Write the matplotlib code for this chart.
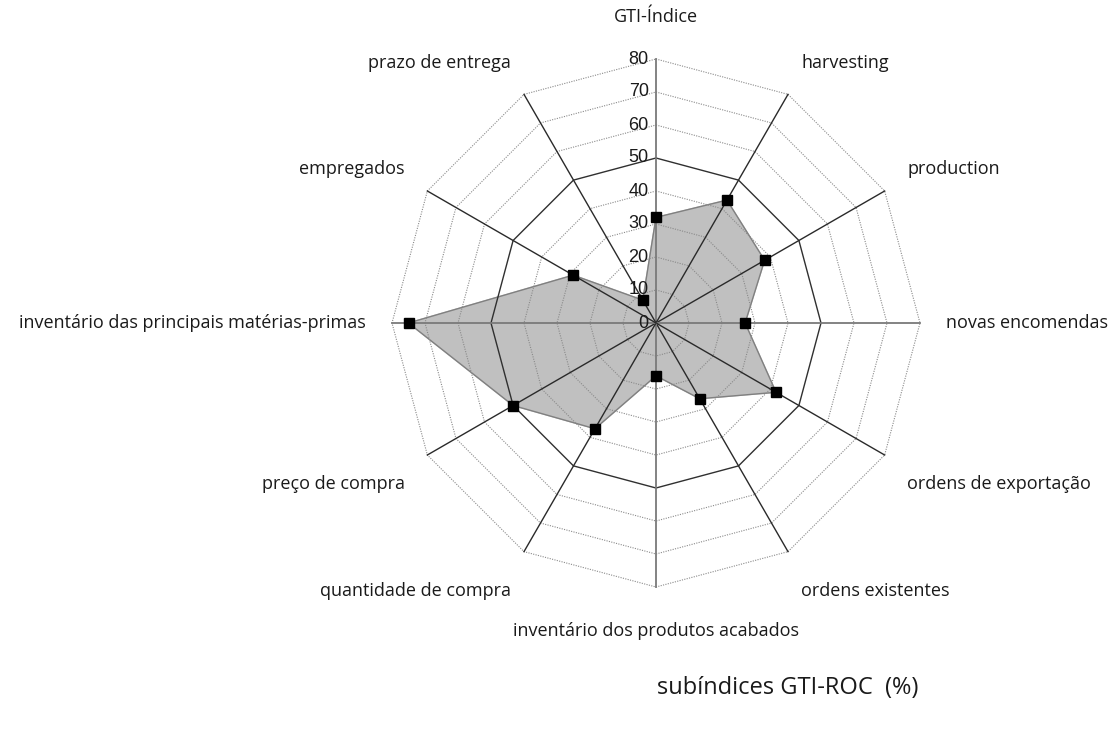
import numpy as np
import matplotlib
matplotlib.use("Agg")
import matplotlib.pyplot as plt

# dados
categorias = ["GTI-Índice", "harvesting", "production", "novas encomendas",
              "ordens de exportação", "ordens existentes",
              "inventário dos produtos acabados", "quantidade de compra",
              "preço de compra", "inventário das principais matérias-primas",
              "empregados", "prazo de entrega"]
valores = [32, 43, 38, 27, 42, 26.5, 16, 37, 50, 75, 29, 8]
niveis = [0, 10, 20, 30, 40, 50, 60, 70, 80]

rmax = 80
n = len(categorias)
ang = np.arange(n) * 2 * np.pi / n   # a partir do topo, sentido horário

def xy(r, a):
    return r * np.sin(a), r * np.cos(a)

fig = plt.figure(figsize=(11.2, 7.55), dpi=100)
ax = fig.add_axes([0, 0, 1, 1])
k = 3.3  # px por unidade
ax.set_xlim(-656 / k, (1120 - 656) / k)
ax.set_ylim(-(755 - 323) / k, 323 / k)
ax.set_aspect("equal")
ax.axis("off")

# área dos dados
aa = np.append(ang, ang[0])
vv = np.append(valores, valores[0])
px, py = xy(vv, aa)
ax.fill(px, py, color="#c0c0c0", zorder=1)
ax.plot(px, py, color="#808080", lw=1, zorder=2)

# grade poligonal
for nv in niveis[1:]:
    gx, gy = xy(np.full(n + 1, nv), aa)
    if nv == 50:
        ax.plot(gx, gy, color="#303030", lw=1, zorder=2)
    else:
        ax.plot(gx, gy, color="#8a8a8a", lw=0.8, ls=(0, (1, 1.2)), zorder=2)

# raios
for i, a in enumerate(ang):
    ex, ey = xy(rmax, a)
    if i % 3 == 0:
        ax.plot([0, ex], [0, ey], color="#7a7a7a", lw=1.3, zorder=2)
    else:
        ax.plot([0, ex], [0, ey], color="#2a2a2a", lw=1, zorder=2)

# marcadores
mx, my = xy(np.array(valores), ang)
ax.plot(mx, my, "s", color="black", ms=7, zorder=4)

# rótulos do eixo
for nv in niveis:
    ax.text(-2.2, nv, str(nv), ha="right", va="center", fontsize=13,
            family="Liberation Sans", color="#1a1a1a", zorder=3)

# rótulos das categorias
rl = 88
for c, a in zip(categorias, ang):
    tx, ty = xy(rl, a)
    s, co = np.sin(a), np.cos(a)
    if abs(s) < 1e-6:
        ha = "center"
    elif s > 0:
        ha = "left"
    else:
        ha = "right"
    if abs(co) < 1e-6:
        va = "center"
    elif co > 0:
        va = "bottom"
    else:
        va = "top"
        ty -= 2.2
    if abs(s) < 1e-6:
        ty += 2 if co > 0 else -0.5
    ax.text(tx, ty, c, ha=ha, va=va, fontsize=13, family="Open Sans",
            color="#1a1a1a")

fig.text(788 / 1120, 1 - 688 / 755, "subíndices GTI-ROC  (%)", ha="center",
         va="center", fontsize=17, family="Open Sans", color="#1a1a1a")

fig.savefig("out.png", dpi=100)
